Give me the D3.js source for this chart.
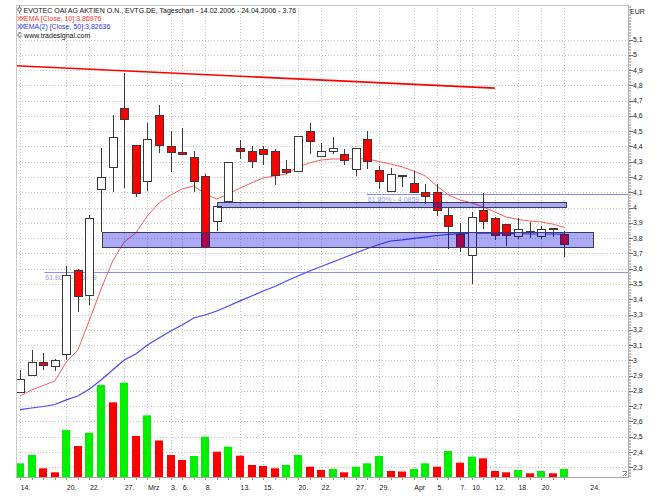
<!DOCTYPE html>
<html><head><meta charset="utf-8">
<script src="https://cdn.jsdelivr.net/npm/d3@7/dist/d3.min.js"></script>
<style>
body{margin:0;background:#fff}
svg{display:block}
text{font-family:"Liberation Sans",Arial,sans-serif}
</style>
</head><body>
<svg id="chart" width="666" height="499"></svg>
<script>
// ---------- DATA ----------
const dates = ["14.02","15.02","16.02","17.02","20.02","21.02","22.02","23.02","24.02","27.02","28.02",
 "01.03","02.03","03.03","06.03","07.03","08.03","09.03","10.03","13.03","14.03","15.03","16.03","17.03",
 "20.03","21.03","22.03","23.03","24.03","27.03","28.03","29.03","30.03","31.03",
 "03.04","04.04","05.04","06.04","07.04","10.04","11.04","12.04","13.04","18.04","19.04","20.04","21.04","24.04"];
const open  = [2.790,2.898,2.986,2.962,3.040,3.586,3.427,4.121,4.260,4.649,4.403,4.169,4.601,4.399,4.359,4.329,4.201,3.907,4.038,4.387,4.365,4.381,4.370,4.250,4.239,4.501,4.337,4.365,4.350,4.250,4.446,4.245,4.108,4.202,4.158,4.099,4.099,3.951,3.826,3.689,3.979,3.929,3.891,3.809,3.841,3.809,3.862,3.824];
const high  = [2.940,3.071,3.045,3.012,3.617,3.595,3.950,4.387,4.606,4.879,4.410,4.551,4.671,4.501,4.518,4.370,4.217,4.030,4.300,4.442,4.403,4.403,4.381,4.311,4.470,4.555,4.420,4.464,4.381,4.390,4.501,4.272,4.260,4.215,4.239,4.152,4.152,3.998,3.896,3.972,4.093,3.935,3.891,3.929,3.907,3.879,3.866,3.844];
const low   = [2.790,2.898,2.936,2.931,3.001,3.317,3.361,3.841,4.099,4.129,4.071,4.108,4.359,4.230,4.350,4.099,3.739,3.848,4.030,4.317,4.260,4.278,4.147,4.219,4.239,4.350,4.330,4.350,4.278,4.208,4.250,4.119,4.108,4.132,4.097,4.021,3.946,3.728,3.710,3.499,3.859,3.787,3.749,3.792,3.798,3.792,3.809,3.678];
const close = [2.877,2.988,2.968,3.001,3.558,3.416,3.929,4.198,4.460,4.579,4.093,4.448,4.403,4.361,4.350,4.169,3.739,4.005,4.293,4.370,4.300,4.350,4.208,4.230,4.464,4.431,4.370,4.387,4.306,4.387,4.300,4.169,4.219,4.213,4.097,4.071,3.979,3.879,3.739,3.936,3.907,3.820,3.820,3.859,3.835,3.859,3.864,3.760];
const volume = [27.4,44,17.4,9.4,94,62,88.6,184,149.4,188.6,82,123.4,73,44,34,42,80.6,50.6,60.6,42.6,24,22,17.4,24,44,20.6,14,16,9.4,20.6,27.4,42,12,11,16,27.4,20.6,52,28.6,40.6,37.4,12,9.4,14,7.4,12,7.4,16];
const ema10 = [2.767,2.806,2.835,2.865,2.989,3.068,3.264,3.467,3.650,3.775,3.834,3.945,4.030,4.082,4.122,4.141,4.089,4.056,4.089,4.128,4.161,4.194,4.207,4.220,4.266,4.292,4.311,4.318,4.318,4.321,4.318,4.302,4.285,4.266,4.239,4.207,4.141,4.082,4.050,4.030,4.004,3.971,3.938,3.922,3.912,3.906,3.892,3.870];
const ema50 = [2.678,2.688,2.698,2.711,2.741,2.767,2.813,2.871,2.937,3.002,3.042,3.101,3.146,3.192,3.231,3.277,3.297,3.323,3.356,3.389,3.421,3.454,3.483,3.519,3.552,3.585,3.614,3.644,3.673,3.703,3.732,3.758,3.781,3.788,3.798,3.807,3.817,3.824,3.830,3.832,3.832,3.832,3.830,3.829,3.827,3.827,3.827,3.826];
const priceTicks = [2.3,2.4,2.5,2.6,2.7,2.8,2.9,3.0,3.1,3.2,3.3,3.4,3.5,3.6,3.7,3.8,3.9,4.0,4.1,4.2,4.3,4.4,4.5,4.6,4.7,4.8,4.9,5.0,5.1];
const priceTickLabels = ["2,3","2,4","2,5","2,6","2,7","2,8","2,9","3","3,1","3,2","3,3","3,4","3,5","3,6","3,7","3,8","3,9","4","4,1","4,2","4,3","4,4","4,5","4,6","4,7","4,8","4,9","5","5,1"];
const xTickLabels = ["14.","20.","22.","27.","Mrz","3.","6.","8.","13.","15.","20.","22.","27.","29.","Apr","5.","7.","10.","12.","18.","20.","24."];
const xTickPos    = [0,4,6,9,11,13,14,16,19,21,24,26,29,31,34,36,38,39,41,43,45,49.2];
const gridDays    = [0,4,6,9,11,13,14,16,19,21,24,26,29,31,34,36,38,39,41,43,45,47];
// drawing objects (day index / price)
const trendLine = [{d:-0.35,p:4.928},{d:41.0,p:4.782}];
const zones = [{d0:7.1,d1:49.5,top:3.837,bottom:3.738},{d0:17.0,d1:47.1,top:4.039,bottom:4.005}];
const fibLevels = [{d0:29.95,p:4.0859,label:"61.80% - 4.0859"},{d0:2.1,p:3.5759,label:"61.80% - 3.5759"}];

// ---------- LAYOUT ----------
const L = 16, R = 628, T = 5, B = 477;
const svg = d3.select("#chart");
const x = d3.scaleLinear().domain([-0.345, 52.5]).range([L, R]);
const y = d3.scaleLinear().domain([2.3, 5.1]).range([467.3, 39.5]);
const yv = d3.scaleLinear().domain([0, 200]).range([B, B - 100]);
const cx = i => Math.round(x(i)) + 0.5;
const days = d3.range(dates.length);

const plot = svg.append("g");
plot.append("clipPath").attr("id","clip").append("rect").attr("x",L).attr("y",T).attr("width",R-L).attr("height",B-T);

// grid
const grid = plot.append("g").attr("stroke","#c4c4c4").attr("stroke-dasharray","1,2").attr("shape-rendering","crispEdges");
grid.selectAll("line.h").data(priceTicks).join("line").attr("class","h")
  .attr("x1",L).attr("x2",R).attr("y1",d=>Math.round(y(d))+0.5).attr("y2",d=>Math.round(y(d))+0.5);
grid.selectAll("line.v").data(gridDays).join("line").attr("class","v")
  .attr("x1",d=>cx(d)).attr("x2",d=>cx(d)).attr("y1",T).attr("y2",B);

// frame
svg.append("path").attr("d",`M${L+0.5},${B}V${T+0.5}H${R}`).attr("fill","none").attr("stroke","#c8c8c8");
svg.append("line").attr("x1",L).attr("x2",R+1).attr("y1",B+0.5).attr("y2",B+0.5).attr("stroke","#a8a8a8");

// volume
plot.append("g").selectAll("rect").data(days).join("rect")
  .attr("x",i=>Math.round(x(i))-4).attr("width",8)
  .attr("y",i=>yv(volume[i])).attr("height",i=>B-yv(volume[i]))
  .attr("fill",i=> (i===0 || volume[i] >= volume[i-1]) ? "#00f000" : "#ff0000");

// fib levels
const fib = plot.append("g");
fib.selectAll("line").data(fibLevels).join("line")
  .attr("x1",d=>x(d.d0)).attr("x2",R).attr("y1",d=>Math.round(y(d.p))+0.5).attr("y2",d=>Math.round(y(d.p))+0.5)
  .attr("stroke","#8c8cff").attr("stroke-width",1);
fib.selectAll("text").data(fibLevels).join("text")
  .attr("x",d=>x(d.d0)+1).attr("y",d=>y(d.p)+8)
  .attr("font-size",7).attr("fill","#9a9aee").text(d=>d.label);

// trend line
plot.append("line").attr("x1",x(trendLine[0].d)).attr("y1",y(trendLine[0].p))
  .attr("x2",x(trendLine[1].d)).attr("y2",y(trendLine[1].p))
  .attr("stroke","#ff0000").attr("stroke-width",1.6);

// EMAs
const line = d3.line().x((d,i)=>x(i)).y(d=>y(d));
plot.append("path").datum(ema50).attr("d",line).attr("fill","none").attr("stroke","#4646ff").attr("stroke-width",1.2);
plot.append("path").datum(ema10).attr("d",line).attr("fill","none").attr("stroke","#ff5a5a").attr("stroke-width",1);

// candles
const cg = plot.append("g").attr("shape-rendering","crispEdges");
cg.selectAll("line").data(days).join("line")
  .attr("x1",cx).attr("x2",cx).attr("y1",i=>y(high[i])).attr("y2",i=>y(low[i]))
  .attr("stroke","#3a3a3a");
cg.selectAll("rect").data(days).join("rect")
  .attr("x",i=>Math.round(x(i))-3.5).attr("width",8)
  .attr("y",i=>y(Math.max(open[i],close[i])))
  .attr("height",i=>Math.max(1,Math.abs(y(open[i])-y(close[i]))))
  .attr("fill",i=> close[i] < open[i] ? "#ff0000" : "#ffffff")
  .attr("stroke","#3a3a3a");

// zones
plot.append("g").selectAll("rect").data(zones).join("rect")
  .attr("x",d=>Math.round(x(d.d0))+0.5).attr("width",d=>Math.round(x(d.d1)-x(d.d0)))
  .attr("y",d=>Math.round(y(d.top))+0.5).attr("height",d=>Math.round(y(d.bottom)-y(d.top)))
  .attr("fill","rgba(0,0,225,0.33)").attr("stroke","#3c3c5a").attr("stroke-width",1);

// right axis
const ax = svg.append("g").attr("shape-rendering","crispEdges");
ax.append("line").attr("x1",R+0.5).attr("x2",R+0.5).attr("y1",T).attr("y2",B+1).attr("stroke","#b0b0b0");
const minor = d3.range(224, 533).map(v=>v/100);
ax.selectAll("line.mn").data(minor).join("line").attr("class","mn")
  .attr("x1",R+1).attr("x2",R+3).attr("y1",d=>Math.round(y(d))+0.5).attr("y2",d=>Math.round(y(d))+0.5)
  .attr("stroke","#c0c0c0");
ax.selectAll("line.mj").data(priceTicks).join("line").attr("class","mj")
  .attr("x1",R+1).attr("x2",R+5).attr("y1",d=>Math.round(y(d))+0.5).attr("y2",d=>Math.round(y(d))+0.5)
  .attr("stroke","#707070");
ax.selectAll("text").data(priceTicks).join("text")
  .attr("x",R+5).attr("y",d=>y(d)+2.5).attr("font-size",7).attr("fill","#202020")
  .text((d,i)=>priceTickLabels[i]);
svg.append("text").attr("x",R+2).attr("y",14).attr("font-size",7).attr("fill","#202020").text("EUR");

// bottom axis
const bx = svg.append("g").attr("shape-rendering","crispEdges");
bx.selectAll("line").data(days).join("line")
  .attr("x1",cx).attr("x2",cx).attr("y1",B+1).attr("y2",B+3).attr("stroke","#909090");
bx.selectAll("text").data(xTickLabels).join("text")
  .attr("x",(d,i)=>x(xTickPos[i])+0.5).attr("y",490).attr("font-size",7).attr("fill","#202020").text(d=>d);

// resize icon
svg.append("path").attr("d",`M${R-5},${B-1}L${R-1},${B-5}M${R-3},${B-1}L${R-1},${B-3}M${R-5.5},${B-5.5}h4.5`).attr("stroke","#606060").attr("fill","none").attr("stroke-width",0.8);

// legend
const lg = svg.append("g").attr("font-size",7);
lg.append("circle").attr("cx",19.5).attr("cy",9.5).attr("r",1.8).attr("fill","none").attr("stroke","#333").attr("stroke-width",0.8);
lg.append("path").attr("d","M19.5,7V5.5M19.5,12V13.5").attr("stroke","#333").attr("stroke-width",0.8);
lg.append("text").attr("x",23.5).attr("y",12.7).attr("fill","#111").text("EVOTEC OAI AG AKTIEN O.N., EVTG.DE, Tageschart - 14.02.2006 - 24.04.2006 - 3.76");
lg.append("text").attr("x",17).attr("y",21).attr("fill","#ff3030").attr("letter-spacing",-1.5).text("XX");
lg.append("text").attr("x",24).attr("y",21).attr("fill","#ff3030").text("EMA [Close, 10]:3.86976");
lg.append("text").attr("x",17).attr("y",29.3).attr("fill","#3030ff").attr("letter-spacing",-1.5).text("XX");
lg.append("text").attr("x",24).attr("y",29.3).attr("fill","#3030ff").text("EMA(2) [Close, 50]:3.82636");
lg.append("text").attr("x",17).attr("y",37.5).attr("fill","#111").text("© www.tradesignal.com");
</script>
</body></html>
